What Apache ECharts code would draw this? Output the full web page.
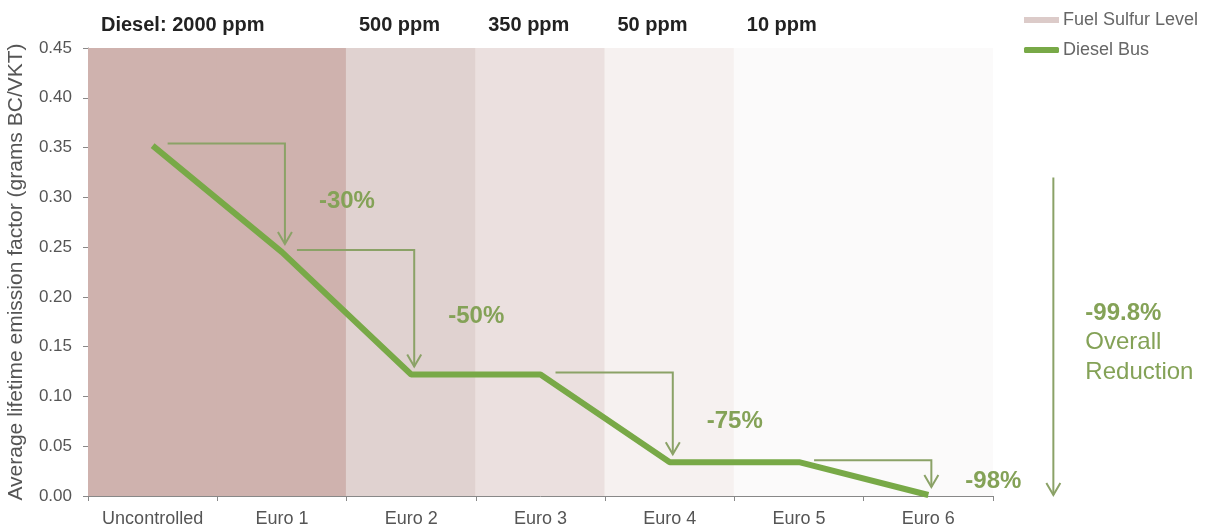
<!DOCTYPE html>
<html>
<head>
<meta charset="utf-8">
<script src="https://cdn.jsdelivr.net/npm/echarts@6/dist/echarts.min.js"></script>
<style>
html,body{margin:0;padding:0;background:#fff;}
#chart{width:1210px;height:532px;}
</style>
</head>
<body>
<div id="chart"></div>
<script>
// ---- data ----
const categories = ['Uncontrolled', 'Euro 1', 'Euro 2', 'Euro 3', 'Euro 4', 'Euro 5', 'Euro 6'];
const dieselBus = [0.352, 0.245, 0.122, 0.122, 0.034, 0.034, 0.001];
const sulfurPpm = [2000, 2000, 500, 350, 50, 10, 10];
const sulfurBandLabels = ['Diesel: 2000 ppm', '', '500 ppm', '350 ppm', '50 ppm', '10 ppm', ''];
const reductionFrom = [0, 1, 3, 5];
const reductionTo = [1, 2, 4, 6];
const reductionLabels = ['-30%', '-50%', '-75%', '-98%'];
const overallLabel = ['-99.8%', 'Overall', 'Reduction'];
const overallArrowTop = 0.32;
const yMin = 0, yMax = 0.45, yInterval = 0.05;

// ---- styles ----
const FONT = '"Liberation Sans", Arial, Helvetica, sans-serif';
const bandColors = {2000: '#cfb2ae', 500: '#e0d2d0', 350: '#ebe0df', 50: '#f6f1f0', 10: '#fbfafa'};
const lineColor = '#78a947';
const arrowColor = '#8ba267';
const pctColor = '#84a257';

const chart = echarts.init(document.getElementById('chart'));

function arrowHead(x, y) {
  return {
    type: 'polyline',
    shape: {points: [[x - 7, y - 12], [x, y], [x + 7, y - 12]]},
    style: {stroke: arrowColor, lineWidth: 2, fill: null}
  };
}

const option = {
  animation: false,
  backgroundColor: '#fff',
  textStyle: {fontFamily: FONT},
  grid: {left: 88, right: 217, top: 48, bottom: 36, containLabel: false, outerBoundsMode: 'none'},
  legend: {
    orient: 'vertical',
    left: 1019,
    top: 6,
    itemWidth: 35,
    itemHeight: 6,
    itemGap: 12,
    textStyle: {color: '#666', fontSize: 18, fontFamily: FONT, padding: [0, 0, 0, -1]},
    data: [
      {name: 'Fuel Sulfur Level', icon: 'rect'},
      {name: 'Diesel Bus', icon: 'roundRect'}
    ]
  },
  xAxis: {
    type: 'category',
    data: categories,
    boundaryGap: true,
    axisLine: {lineStyle: {color: '#888', width: 1}},
    axisTick: {show: true, interval: 0, length: 5, lineStyle: {color: '#888'}},
    axisLabel: {interval: 0, color: '#555', fontSize: 18, margin: 14, fontFamily: FONT},
    splitLine: {show: false}
  },
  yAxis: {
    type: 'value',
    min: yMin,
    max: yMax,
    interval: yInterval,
    name: 'Average lifetime emission factor (grams BC/VKT)',
    nameLocation: 'middle',
    nameGap: 61,
    nameTextStyle: {color: '#555', fontSize: 21, fontFamily: FONT},
    axisLine: {show: true, lineStyle: {color: '#888', width: 1}},
    axisTick: {show: true, length: 5, lineStyle: {color: '#888'}},
    axisLabel: {color: '#555', fontSize: 17, margin: 16, fontFamily: FONT,
      formatter: v => v.toFixed(2)},
    splitLine: {show: false}
  },
  series: [
    {
      name: 'Fuel Sulfur Level',
      type: 'bar',
      barWidth: '101%',
      barGap: '-100%',
      z: 1,
      itemStyle: {color: '#dccbc9'},
      data: sulfurPpm.map((ppm, i) => ({
        value: yMax,
        itemStyle: {color: bandColors[ppm]},
        label: {
          show: sulfurBandLabels[i] !== '',
          formatter: sulfurBandLabels[i],
          position: [13, -23],
          verticalAlign: 'middle',
          align: 'left',
          color: '#222',
          fontSize: 20,
          fontWeight: 'bold',
          fontFamily: FONT
        }
      })),
      emphasis: {disabled: true}
    },
    {
      name: 'Diesel Bus',
      type: 'line',
      data: dieselBus,
      symbol: 'none',
      z: 5,
      itemStyle: {color: lineColor},
      lineStyle: {color: lineColor, width: 6}
    },
    {
      name: 'steps',
      type: 'custom',
      z: 6,
      clip: false,
      encode: {x: 0, y: 1},
      data: reductionFrom.map((f, k) => [f, dieselBus[f], reductionTo[k], dieselBus[reductionTo[k]], k]),
      renderItem: function (params, api) {
        const p0 = api.coord([api.value(0), api.value(1)]);
        const p1 = api.coord([api.value(2), api.value(3)]);
        const k = api.value(4);
        const xs = p0[0] + 15;
        const yh = p0[1] - 2;
        const xv = p1[0] + 3;
        const yTip = p1[1] - 8;
        return {
          type: 'group',
          children: [
            {type: 'polyline', shape: {points: [[xs, yh], [xv, yh], [xv, yTip]]},
              style: {stroke: arrowColor, lineWidth: 2, fill: null}},
            arrowHead(xv, yTip),
            {type: 'text', x: xv + 62, y: (yh + yTip) / 2 + 8,
              style: {text: reductionLabels[k], fill: pctColor, font: 'bold 24px ' + FONT,
                align: 'center', verticalAlign: 'middle'}}
          ]
        };
      }
    },
    {
      name: 'overall',
      type: 'custom',
      z: 6,
      clip: false,
      encode: {x: 0, y: 1},
      data: [[categories.length - 1, overallArrowTop, 0]],
      renderItem: function (params, api) {
        const pTop = api.coord([api.value(0), api.value(1)]);
        const pBot = api.coord([api.value(0), api.value(2)]);
        const x = pTop[0] + 125;
        const yTop = pTop[1];
        const yBot = pBot[1] - 1;
        const ty = (yTop + yBot) / 2 - 23;
        return {
          type: 'group',
          children: [
            {type: 'line', shape: {x1: x, y1: yTop, x2: x, y2: yBot},
              style: {stroke: arrowColor, lineWidth: 2}},
            arrowHead(x, yBot),
            {type: 'text', x: x + 32, y: ty,
              style: {text: overallLabel[0], fill: pctColor, font: 'bold 24px ' + FONT, align: 'left', verticalAlign: 'middle'}},
            {type: 'text', x: x + 32, y: ty + 29,
              style: {text: overallLabel[1], fill: pctColor, font: '24px ' + FONT, align: 'left', verticalAlign: 'middle'}},
            {type: 'text', x: x + 32, y: ty + 59,
              style: {text: overallLabel[2], fill: pctColor, font: '24px ' + FONT, align: 'left', verticalAlign: 'middle'}}
          ]
        };
      }
    }
  ]
};
chart.setOption(option);
</script>
</body>
</html>
